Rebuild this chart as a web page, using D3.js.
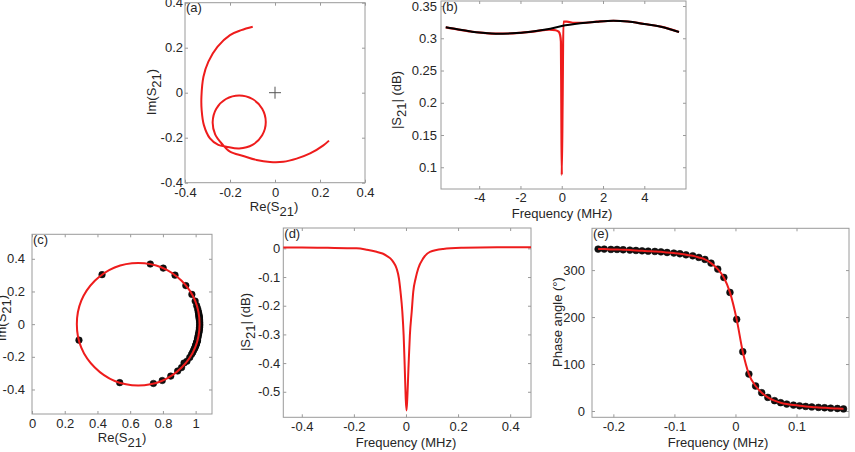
<!DOCTYPE html>
<html><head><meta charset="utf-8">
<script src="https://cdn.jsdelivr.net/npm/d3@7/dist/d3.min.js"></script>
<style>
body{margin:0;background:#fff;}
svg{display:block;font-family:"Liberation Sans",Arial,Helvetica,sans-serif;}
</style></head><body>
<svg id="chart" width="855" height="452"></svg>
<script>
// ---------- Panel (a): raw S21 in complex plane ----------
const aRe = [-0.099,-0.150,-0.200,-0.256,-0.296,-0.318,-0.327,-0.326,-0.316,-0.289,-0.252,-0.216,-0.159,-0.100,-0.057,-0.041,-0.057,-0.100,-0.159,-0.218,-0.261,-0.277,-0.266,-0.235,-0.200,-0.141,-0.082,-0.022,0.037,0.096,0.156,0.215,0.240];
const aIm = [0.293,0.278,0.256,0.204,0.138,0.071,-0.018,-0.077,-0.144,-0.203,-0.232,-0.240,-0.248,-0.232,-0.189,-0.130,-0.071,-0.028,-0.012,-0.028,-0.071,-0.130,-0.185,-0.228,-0.262,-0.281,-0.299,-0.308,-0.307,-0.293,-0.270,-0.234,-0.213];
const aTicks = [-0.4,-0.2,0,0.2,0.4];

// ---------- Panel (b): wide sweep magnitude ----------
const bFreqFit = [-5.62,-5.0,-4.4,-4.0,-3.2,-2.4,-1.5,-0.7,0,0.9,1.7,2.5,3.2,4.0,4.8,5.68];
const bMagFit  = [0.317,0.3135,0.3105,0.3088,0.3072,0.3077,0.3100,0.3139,0.3190,0.3232,0.3257,0.3272,0.3260,0.3221,0.3180,0.3097];
const bFreqData = [-5.62,-5.0,-4.4,-3.8,-3.2,-2.6,-2.0,-1.4,-0.9,-0.6,-0.3,-0.15,-0.08,-0.04,-0.02,0.0,0.04,0.08,0.24,0.6,1.0,1.7,2.5,3.2,4.0,4.8,5.68];
const bMagData  = [0.317,0.3135,0.3105,0.3085,0.3072,0.3074,0.3085,0.3102,0.3125,0.3135,0.3125,0.3103,0.3051,0.2947,0.20,0.088,0.20,0.3257,0.3257,0.3240,0.3238,0.3257,0.3272,0.3260,0.3221,0.3180,0.3097];
const bXTicks = [-4,-2,0,2,4];
const bYTicks = [0.1,0.15,0.2,0.25,0.3,0.35];

// ---------- Panel (c): normalised resonance circle ----------
const cRe = [1.011,1.010,1.008,1.007,1.005,1.004,1.002,1.001,0.999,0.996,0.992,0.988,0.982,0.975,0.964,0.947,0.914,0.848,0.742,0.536,0.287,0.428,0.723,0.874,0.940,0.977,0.997,1.006,1.012,1.015,1.017,1.019,1.020,1.021,1.021,1.022,1.022,1.023,0.802,0.796,0.890,0.929,
             1.024,1.025,1.025,1.025,1.024,1.023,1.022,1.020,1.018,1.016,1.014,1.012];
const cIm = [-0.099,-0.103,-0.108,-0.112,-0.117,-0.122,-0.126,-0.130,-0.135,-0.144,-0.151,-0.160,-0.173,-0.185,-0.204,-0.227,-0.266,-0.318,-0.363,-0.358,-0.098,0.303,0.368,0.300,0.236,0.182,0.141,0.114,0.096,0.082,0.072,0.063,0.056,0.050,0.045,0.040,0.035,0.029,0.343,-0.345,-0.287,-0.238,
             0.020,0.010,0.000,-0.010,-0.020,-0.030,-0.040,-0.050,-0.060,-0.070,-0.080,-0.090];
const cFitCenter = [0.649, 0.0];
const cFitRadius = [0.375];
const cXTicks = [0,0.2,0.4,0.6,0.8,1];
const cYTicks = [-0.4,-0.2,0,0.2,0.4];

// ---------- Panel (d): narrow sweep magnitude ----------
const dFreq = [-0.471,-0.40,-0.30,-0.19,-0.15,-0.113,-0.09,-0.074,-0.06,-0.049,-0.036,-0.027,-0.021,-0.014,-0.009,-0.005,-0.001,0.002,0.005,0.010,0.015,0.022,0.028,0.037,0.047,0.066,0.092,0.143,0.22,0.35,0.48];
const dMag  = [0.003,0.003,0.002,0.000,-0.005,-0.012,-0.018,-0.026,-0.035,-0.047,-0.070,-0.105,-0.151,-0.221,-0.302,-0.407,-0.523,-0.565,-0.523,-0.407,-0.302,-0.221,-0.151,-0.105,-0.070,-0.035,-0.012,-0.002,0.002,0.004,0.004];
const dXTicks = [-0.4,-0.2,0,0.2,0.4];
const dYTicks = [-0.5,-0.4,-0.3,-0.2,-0.1,0];

// ---------- Panel (e): phase ----------
const eFreq = [-0.225,-0.215,-0.204,-0.194,-0.184,-0.173,-0.163,-0.153,-0.143,-0.132,-0.122,-0.112,-0.101,-0.091,-0.081,-0.070,-0.060,-0.050,-0.040,-0.029,-0.019,-0.009,0.002,0.012,0.022,0.033,0.043,0.053,0.064,0.074,0.084,0.095,0.105,0.115,0.125,0.136,0.146,0.156,0.167,0.177];
const ePhase = [344.7,344.7,344.0,344.0,343.3,342.6,341.8,341.1,340.4,339.7,338.9,337.5,336.2,334.8,332.6,330.5,327.0,322.7,314.9,302.1,284.4,252.5,195.1,126.2,78.7,53.2,39.0,29.0,22.0,17.7,14.8,12.6,11.0,9.7,8.6,7.7,6.9,6.1,5.3,4.5];
const eXTicks = [-0.2,-0.1,0,0.1];
const eYTicks = [0,100,200,300];

// ---------- drawing ----------
const svg = d3.select("#chart");
const FRAME = "#9a9a9a", TXT = "#262626", RED = "#ee1c1c";
const fmt = d => String(d);

function panel(o){
  const x = d3.scaleLinear().domain(o.xd).range([o.x0,o.x1]);
  const y = d3.scaleLinear().domain(o.yd).range([o.y1,o.y0]);
  const g = svg.append("g");
  const styleAxis = sel => {
    sel.select(".domain").remove();
    sel.selectAll(".tick line").attr("stroke",FRAME);
    sel.selectAll(".tick text").attr("fill",TXT).style("font-size","13px").style("font-family",'"Liberation Sans",Arial,sans-serif');
  };
  g.append("g").attr("transform",`translate(0,${o.y1})`)
    .call(d3.axisBottom(x).tickValues(o.xt).tickFormat(fmt).tickSize(-3).tickPadding(o.xpad)).call(styleAxis);
  g.append("g").attr("transform",`translate(${o.x0},0)`)
    .call(d3.axisLeft(y).tickValues(o.yt).tickFormat(fmt).tickSize(-3).tickPadding(o.ypad)).call(styleAxis);
  g.append("g").attr("transform",`translate(0,${o.y0})`)
    .call(d3.axisTop(x).tickValues(o.xt).tickFormat("").tickSize(-3)).call(styleAxis);
  g.append("g").attr("transform",`translate(${o.x1},0)`)
    .call(d3.axisRight(y).tickValues(o.yt).tickFormat("").tickSize(-3)).call(styleAxis);
  g.append("rect").attr("x",o.x0).attr("y",o.y0).attr("width",o.x1-o.x0).attr("height",o.y1-o.y0)
    .attr("fill","none").attr("stroke",FRAME).attr("stroke-width",1);
  g.append("text").attr("x",o.x0+1).attr("y",o.y0+9.5).attr("fill",TXT).style("font-size","13px").text(o.tag);
  return {x,y,g};
}

function label(g, parts, x, y, rotate){
  const t = g.append("text").attr("fill",TXT).style("font-size","13px").attr("text-anchor","middle")
    .attr("transform",`translate(${x},${y})` + (rotate? " rotate(-90)":""));
  parts.forEach(p => {
    const s = t.append("tspan").text(p[0]);
    if (p[1]) s.attr("dy", p[1]);
  });
  return t;
}

// Panel (a)
{
  const P = panel({x0:185,x1:365,y0:2.7,y1:182.7,xd:[-0.4,0.4],yd:[-0.4,0.4],xt:aTicks,yt:aTicks,xpad:5,ypad:2,tag:"(a)"});
  const pts = aRe.map((r,i)=>[r,aIm[i]]);
  P.g.append("path").attr("d", d3.line().x(d=>P.x(d[0])).y(d=>P.y(d[1])).curve(d3.curveCatmullRom)(pts))
    .attr("fill","none").attr("stroke",RED).attr("stroke-width",2);
  const cx = P.x(0), cy = P.y(0);
  P.g.append("path").attr("d",`M${cx-6},${cy}H${cx+6}M${cx},${cy-6}V${cy+6}`).attr("stroke","#555").attr("stroke-width",1);
  label(P.g, [["Re(S"],["21","5"],[")","-5"]], 274, 211, false);
  label(P.g, [["Im(S"],["21","5"],[")","-5"]], 156, 92, true);
}

// Panel (b)
{
  const P = panel({x0:441,x1:686,y0:1,y1:189,xd:[-5.85,6.02],yd:[0.0663,0.3578],xt:bXTicks,yt:bYTicks,xpad:4,ypad:4,tag:"(b)"});
  const dat = bFreqData.map((f,i)=>[f,bMagData[i]]);
  const fit = bFreqFit.map((f,i)=>[f,bMagFit[i]]);
  P.g.append("path").attr("d", d3.line().x(d=>P.x(d[0])).y(d=>P.y(d[1])).curve(d3.curveMonotoneX)(dat))
    .attr("fill","none").attr("stroke",RED).attr("stroke-width",2.2);
  P.g.append("path").attr("d", d3.line().x(d=>P.x(d[0])).y(d=>P.y(d[1])).curve(d3.curveMonotoneX)(fit))
    .attr("fill","none").attr("stroke","#000").attr("stroke-width",2);
  label(P.g, [["Frequency (MHz)"]], 562, 218, false);
  label(P.g, [["|S"],["21","5"],["| (dB)","-5"]], 401, 100, true);
}

// Panel (c)
{
  const P = panel({x0:32,x1:212,y0:234.3,y1:414,xd:[0,1.1],yd:[-0.55,0.55],xt:cXTicks,yt:cYTicks,xpad:5,ypad:7,tag:"(c)"});
  P.g.selectAll("circle.pt").data(cRe.map((r,i)=>[r,cIm[i]])).join("circle").attr("class","pt")
    .attr("cx",d=>P.x(d[0])).attr("cy",d=>P.y(d[1])).attr("r",3.3).attr("fill","#111").attr("stroke","#000").attr("stroke-width",0.5);
  P.g.append("ellipse").attr("cx",P.x(cFitCenter[0])).attr("cy",P.y(cFitCenter[1]))
    .attr("rx",P.x(cFitCenter[0]+cFitRadius[0])-P.x(cFitCenter[0]))
    .attr("ry",P.y(cFitCenter[1])-P.y(cFitCenter[1]+cFitRadius[0]))
    .attr("fill","none").attr("stroke",RED).attr("stroke-width",2);
  label(P.g, [["Re(S"],["21","5"],[")","-5"]], 122, 442, false);
  label(P.g, [["Im(S"],["21","5"],[")","-5"]], 6, 318, true);
}

// Panel (d)
{
  const P = panel({x0:283.3,x1:531,y0:228,y1:417.3,xd:[-0.471,0.48],yd:[-0.589,0.071],xt:dXTicks,yt:dYTicks,xpad:4,ypad:3,tag:"(d)"});
  const pts = dFreq.map((f,i)=>[f,dMag[i]]);
  P.g.append("path").attr("d", d3.line().x(d=>P.x(d[0])).y(d=>P.y(d[1])).curve(d3.curveMonotoneX)(pts))
    .attr("fill","none").attr("stroke",RED).attr("stroke-width",2);
  label(P.g, [["Frequency (MHz)"]], 406, 446.5, false);
  label(P.g, [["|S"],["21","5"],["| (dB)","-5"]], 250, 322, true);
}

// Panel (e)
{
  const P = panel({x0:592,x1:849,y0:228.3,y1:417.3,xd:[-0.235,0.186],yd:[-13.4,389],xt:eXTicks,yt:eYTicks,xpad:4,ypad:7,tag:"(e)"});
  const pts = eFreq.map((f,i)=>[f,ePhase[i]]);
  P.g.selectAll("circle.pt").data(pts).join("circle").attr("class","pt")
    .attr("cx",d=>P.x(d[0])).attr("cy",d=>P.y(d[1])).attr("r",3.4).attr("fill","#111").attr("stroke","#000").attr("stroke-width",0.5);
  P.g.append("path").attr("d", d3.line().x(d=>P.x(d[0])).y(d=>P.y(d[1])).curve(d3.curveMonotoneX)(pts))
    .attr("fill","none").attr("stroke",RED).attr("stroke-width",2);
  label(P.g, [["Frequency (MHz)"]], 718, 446.5, false);
  label(P.g, [["Phase angle (°)"]], 562, 322, true);
}
</script>
</body></html>
